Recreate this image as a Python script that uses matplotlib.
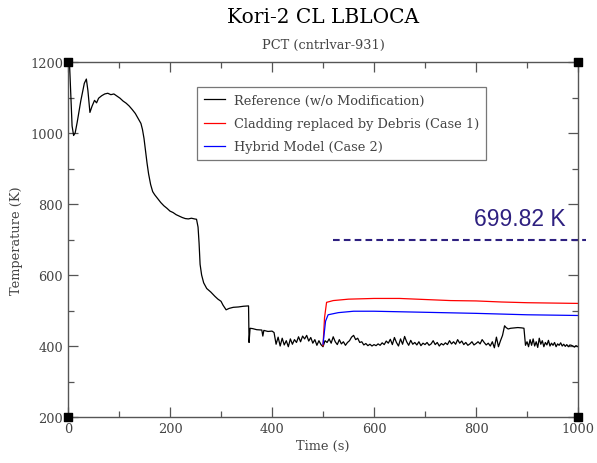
import matplotlib
matplotlib.use("Agg")
import matplotlib.pyplot as plt
from matplotlib.ticker import MultipleLocator

# reference curve (w/o modification)
ref_time = [0, 1, 3, 8, 11, 14, 18, 25, 32, 36, 39, 43, 47, 52, 56, 60, 66, 72, 78, 84,
            90, 96, 102, 108, 114, 120, 126, 132, 138, 143, 146, 149, 152, 155, 158, 162,
            166, 170, 176, 182, 188, 194, 200, 206, 212, 218, 224, 230, 236, 242, 248, 252,
            255, 257, 259, 262, 266, 272, 280, 288, 294, 300, 304, 310, 316, 324, 334, 344,
            354, 355, 357, 362, 370, 380, 382, 384, 392, 400,
            404, 408, 412, 416, 420, 424, 428, 432, 436, 440, 444, 448, 452, 456, 460, 464,
            468, 472, 476, 480, 484, 488, 492, 496, 500, 504, 508, 512, 516, 520, 524, 528,
            532, 536, 540, 544, 548, 552, 556, 560, 564, 568, 572, 576, 580, 584, 588, 592,
            596, 600, 604, 608, 612, 616, 620, 624, 628, 632, 636, 640, 644, 648, 652, 656,
            660, 664, 668, 672, 676, 680, 684, 688, 692, 696, 700, 704, 708, 712, 716, 720,
            724, 728, 732, 736, 740, 744, 748, 752, 756, 760, 764, 768, 772, 776, 780, 784,
            788, 792, 796, 800, 804, 808, 812, 816, 820, 824, 828, 832, 836, 840, 844, 848,
            852, 856, 859, 863, 868, 875, 882, 890, 894, 897, 900, 903, 906, 909, 912, 915,
            918, 921, 924, 927, 930, 933, 936, 939, 942, 945, 948, 951, 954, 957, 960, 963,
            966, 969, 972, 975, 978, 981, 984, 987, 990, 993, 996, 1000]
ref_temp = [1010, 1200, 1195, 1020, 993, 1000, 1030, 1090, 1140, 1152, 1120, 1058, 1075, 1092,
            1085, 1098, 1105, 1110, 1112, 1108, 1110, 1104, 1098, 1090, 1084, 1076, 1066, 1055,
            1040, 1027, 1010, 985, 950, 915, 885, 855, 835, 826, 815, 804, 795, 788, 780, 776,
            770, 766, 762, 759, 758, 760, 758, 757, 735, 690, 630, 600, 578, 562, 552, 540,
            532, 526, 515, 502, 506, 509, 510, 512, 513, 410, 450, 449, 446, 445, 428, 444,
            441, 442,
            438, 405, 425, 400, 422, 403, 415, 398, 420, 405, 418, 410, 426, 412, 428, 420,
            430, 414, 424, 408, 418, 402, 415, 404, 398, 415, 410, 420, 408, 426, 412, 404,
            418, 406, 412, 402, 410, 415, 425, 430, 418, 422, 410, 412, 403, 407, 401, 405,
            400, 404, 401, 406, 402, 409, 404, 414, 408, 419, 404, 424, 410, 400, 420, 405,
            427, 412, 402, 416, 405, 410, 403, 412, 401, 408, 404, 410, 402, 406, 415, 404,
            410, 400, 407, 403, 409, 404, 415, 406, 412, 405, 418, 408, 414, 404, 410, 402,
            406, 412, 403, 407, 412, 406, 418, 410, 403, 408, 400, 412, 395, 425, 398, 415,
            430, 457, 452, 448, 450, 451, 452, 451, 450, 402, 412, 398, 418, 402, 420, 400,
            412, 396, 422, 405, 415, 398, 410, 403, 416, 400, 408, 402, 410, 398, 406, 402,
            409, 400, 405, 399, 404, 398, 403, 402, 400, 397, 401, 398]

# case 1: cladding replaced by debris
case1_time = [500, 503, 507, 520, 550, 600, 650, 700, 750, 800, 850, 900, 950, 1000]
case1_temp = [401, 480, 523, 528, 532, 534, 534, 531, 528, 527, 524, 522, 521, 520]

# case 2: hybrid model
case2_time = [500, 505, 510, 530, 560, 600, 700, 800, 900, 1000]
case2_temp = [405, 470, 488, 494, 498, 498, 495, 492, 488, 486]

limit_value = 699.82
limit_range = [520, 1015]

serif = ["DejaVu Serif"]
txt_gray = "#444444"

fig = plt.figure(figsize=(5.97, 4.64), dpi=100)
ax = fig.add_axes([0.1139, 0.0991, 0.8543, 0.7651])

ax.plot(ref_time, ref_temp, color="black", lw=0.9, label="Reference (w/o Modification)")
ax.plot(case1_time, case1_temp, color="red", lw=0.9, label="Cladding replaced by Debris (Case 1)")
ax.plot(case2_time, case2_temp, color="blue", lw=0.9, label="Hybrid Model (Case 2)")

ax.plot(limit_range, [limit_value, limit_value], color="#2e2080", lw=1.5,
        dashes=(3.2, 2.0), clip_on=False)
ax.text(976, 742, f"{limit_value} K", color="#2e2080", fontsize=16.5,
        family="Liberation Sans", ha="right", va="baseline")

ax.set_xlim(0, 1000)
ax.set_ylim(200, 1200)
ax.xaxis.set_major_locator(MultipleLocator(200))
ax.xaxis.set_minor_locator(MultipleLocator(100))
ax.yaxis.set_major_locator(MultipleLocator(200))
ax.yaxis.set_minor_locator(MultipleLocator(100))
ax.tick_params(which="both", direction="in", top=True, right=True, color="#555555",
               labelsize=9.3, labelcolor=txt_gray)
ax.tick_params(which="major", length=7, width=0.9)
ax.tick_params(which="minor", length=4, width=0.9)
for lab in ax.get_xticklabels() + ax.get_yticklabels():
    lab.set_family(serif)
for sp in ax.spines.values():
    sp.set_color("#555555")
    sp.set_linewidth(1.0)

# corner markers
ax.scatter([0, 1000, 0, 1000], [1200, 1200, 200, 200], marker="s", s=40,
           color="black", clip_on=False, zorder=5)

ax.set_xlabel("Time (s)", family=serif, fontsize=9.3, color=txt_gray, labelpad=3)
ax.set_ylabel("Temperature (K)", family=serif, fontsize=9.3, color=txt_gray, labelpad=5)

fig.text(0.541, 0.962, "Kori-2 CL LBLOCA", family=serif, fontsize=14.5,
         ha="center", va="center", color="black")
fig.text(0.541, 0.903, "PCT (cntrlvar-931)", family=serif, fontsize=9.3,
         ha="center", va="center", color=txt_gray)

leg = ax.legend(loc="upper left", bbox_to_anchor=(0.253, 0.93), frameon=True,
                fancybox=False, prop={"family": serif, "size": 9.3},
                handlelength=1.6, borderpad=0.55, labelspacing=0.78, handletextpad=0.7,
                borderaxespad=0)
leg.get_frame().set_edgecolor("#555555")
leg.get_frame().set_linewidth(0.9)
for t in leg.get_texts():
    t.set_color(txt_gray)

fig.savefig("out.png", dpi=100)
